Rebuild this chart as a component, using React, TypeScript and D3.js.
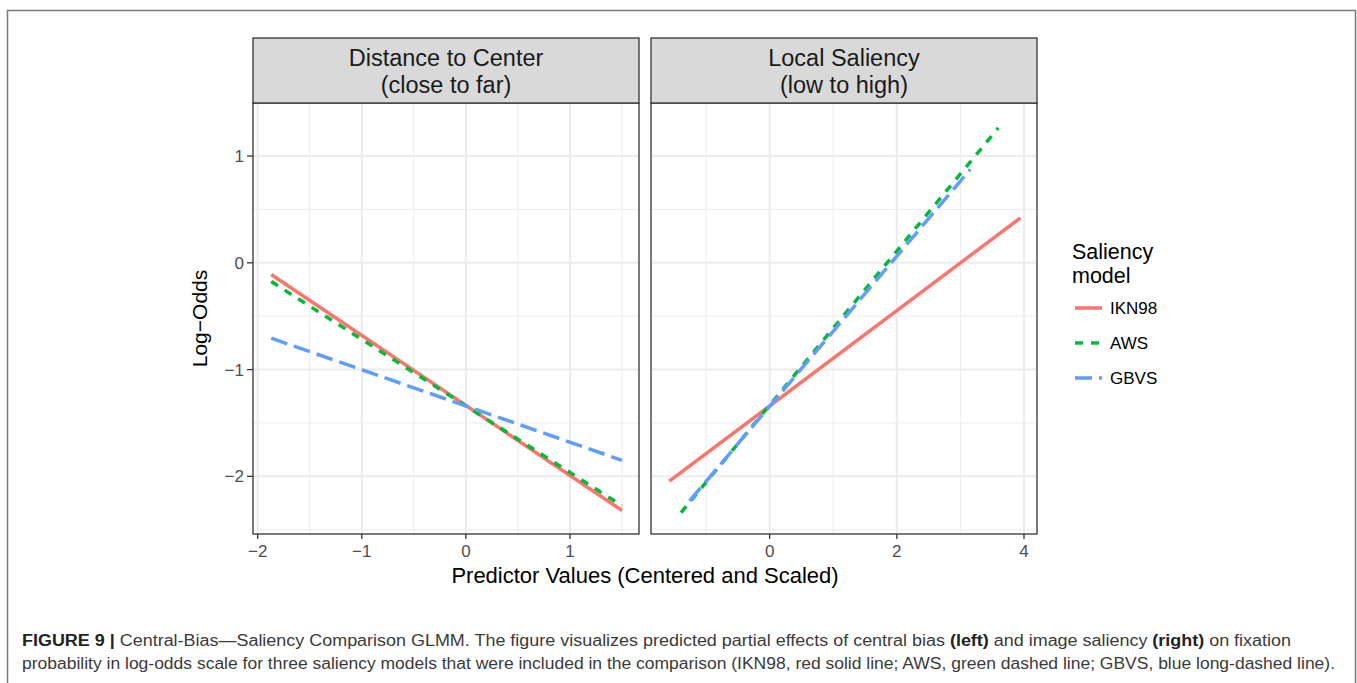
import React from "react";
import * as d3 from "d3";

// ---- data ----
const panelTitles = [["Distance to Center", "(close to far)"], ["Local Saliency", "(low to high)"]];
const models = ["IKN98", "AWS", "GBVS"];
const modelColors = ["#F8766D", "#00BA38", "#619CFF"];
const modelDash = ["none", "8 8", "17 7"];

// Distance to Center: x endpoints and predicted log-odds
const distX = [-1.87, 1.5];
const distIKN98 = [-0.11, -2.32];
const distAWS = [-0.175, -2.275];
const distGBVS = [-0.706, -1.85];

// Local Saliency: x endpoints per model and predicted log-odds
const salXIKN98 = [-1.577, 3.943];
const salXAWS = [-1.393, 3.596];
const salXGBVS = [-1.26, 3.155];
const salIKN98 = [-2.045, 0.42];
const salAWS = [-2.34, 1.263];
const salGBVS = [-2.23, 0.875];

const yTicks = [-2, -1, 0, 1];
const yMinor = [-2.5, -1.5, -0.5, 0.5];
const distTicks = [-2, -1, 0, 1];
const distMinor = [-1.5, -0.5, 0.5, 1.5];
const salTicks = [0, 2, 4];
const salMinor = [-1, 1, 3];

const fmt = (v: number) => (v < 0 ? "\u2212" + Math.abs(v) : String(v));

export default function App() {
  const top = 103, bottom = 534, stripTop = 38;
  const y = d3.scaleLinear().domain([-2.54, 1.497]).range([bottom, top]);
  const xDist = d3.scaleLinear().domain([-2.045, 1.663]).range([253, 639]);
  const xSal = d3.scaleLinear().domain([-1.866, 4.205]).range([651, 1037]);

  const line = d3.line<[number, number]>();

  const panels = [
    {
      x: xDist,
      ticks: distTicks,
      minor: distMinor,
      series: [
        { xs: distX, ys: distIKN98 },
        { xs: distX, ys: distAWS },
        { xs: distX, ys: distGBVS },
      ],
    },
    {
      x: xSal,
      ticks: salTicks,
      minor: salMinor,
      series: [
        { xs: salXIKN98, ys: salIKN98 },
        { xs: salXAWS, ys: salAWS },
        { xs: salXGBVS, ys: salGBVS },
      ],
    },
  ];

  const font = "'Liberation Sans', Arial, Helvetica, sans-serif";
  const capFont = "'Liberation Sans Narrow', 'Liberation Sans', Arial, sans-serif";

  return (
    <svg
      width={1357}
      height={683}
      style={{ position: "absolute", left: 0, top: 0, background: "#fff" }}
      fontFamily={font}
    >
      <rect x={0} y={0} width={1357} height={683} fill="#fff" />
      {/* frame */}
      <path d="M7.5,700 V10.5 H1355.5 V700" fill="none" stroke="#7a7a7a" strokeWidth={1.5} />

      {panels.map((p, i) => {
        const [x0, x1] = p.x.range();
        return (
          <g key={i}>
            <rect x={x0} y={top} width={x1 - x0} height={bottom - top} fill="#fff" />
            {yMinor.map((v) => (
              <line key={"ym" + v} x1={x0} x2={x1} y1={y(v)} y2={y(v)} stroke="#EBEBEB" strokeWidth={1} />
            ))}
            {p.minor.map((v) => (
              <line key={"xm" + v} x1={p.x(v)} x2={p.x(v)} y1={top} y2={bottom} stroke="#EBEBEB" strokeWidth={1} />
            ))}
            {yTicks.map((v) => (
              <line key={"yM" + v} x1={x0} x2={x1} y1={y(v)} y2={y(v)} stroke="#EBEBEB" strokeWidth={2} />
            ))}
            {p.ticks.map((v) => (
              <line key={"xM" + v} x1={p.x(v)} x2={p.x(v)} y1={top} y2={bottom} stroke="#EBEBEB" strokeWidth={2} />
            ))}
            {p.series.map((s, k) => (
              <path
                key={k}
                d={line(s.xs.map((xv, j) => [p.x(xv), y(s.ys[j])]))!}
                fill="none"
                stroke={modelColors[k]}
                strokeWidth={3.5}
                strokeDasharray={modelDash[k]}
              />
            ))}
            <rect x={x0} y={top} width={x1 - x0} height={bottom - top} fill="none" stroke="#333" strokeWidth={1.3} />
            {/* strip */}
            <rect x={x0} y={stripTop} width={x1 - x0} height={top - stripTop} fill="#D9D9D9" stroke="#333" strokeWidth={1.3} />
            <text x={(x0 + x1) / 2} y={66} textAnchor="middle" fontSize={23.5} fill="#1A1A1A">
              {panelTitles[i][0]}
            </text>
            <text x={(x0 + x1) / 2} y={92.5} textAnchor="middle" fontSize={23.5} fill="#1A1A1A">
              {panelTitles[i][1]}
            </text>
            {/* x axis */}
            {p.ticks.map((v) => (
              <g key={"xt" + v}>
                <line x1={p.x(v)} x2={p.x(v)} y1={bottom} y2={bottom + 5} stroke="#333" strokeWidth={1.3} />
                <text x={p.x(v)} y={557} textAnchor="middle" fontSize={17} fill="#4D4D4D">
                  {fmt(v)}
                </text>
              </g>
            ))}
          </g>
        );
      })}

      {/* y axis */}
      {yTicks.map((v) => (
        <g key={"yt" + v}>
          <line x1={247} x2={253} y1={y(v)} y2={y(v)} stroke="#333" strokeWidth={1.3} />
          <text x={244} y={y(v) + 6} textAnchor="end" fontSize={17} fill="#4D4D4D">
            {fmt(v)}
          </text>
        </g>
      ))}

      <text
        transform={`translate(207,${(top + bottom) / 2}) rotate(-90)`}
        textAnchor="middle"
        fontSize={21}
        fill="#000"
      >
        Log{"\u2212"}Odds
      </text>
      <text x={645} y={583} textAnchor="middle" fontSize={22} fill="#000">
        Predictor Values (Centered and Scaled)
      </text>

      {/* legend */}
      <text x={1072} y={259} fontSize={21.5} fill="#000">Saliency</text>
      <text x={1072} y={283} fontSize={21.5} fill="#000">model</text>
      {models.map((m, k) => (
        <g key={m}>
          <line
            x1={1075}
            x2={1102}
            y1={308 + k * 35}
            y2={308 + k * 35}
            stroke={modelColors[k]}
            strokeWidth={3.5}
            strokeDasharray={modelDash[k]}
          />
          <text x={1110} y={314 + k * 35} fontSize={17} fill="#000">
            {m}
          </text>
        </g>
      ))}

      {/* caption */}
      <text x={22} y={646} fontSize={16} fill="#3a3a3a" fontFamily={capFont} textLength={1269} lengthAdjust="spacingAndGlyphs">
        <tspan fontWeight="bold" fill="#222">FIGURE 9 |</tspan>
        <tspan> Central-Bias{"\u2014"}Saliency Comparison GLMM. The figure visualizes predicted partial effects of central bias </tspan>
        <tspan fontWeight="bold" fill="#222">(left)</tspan>
        <tspan> and image saliency </tspan>
        <tspan fontWeight="bold" fill="#222">(right)</tspan>
        <tspan> on fixation</tspan>
      </text>
      <text x={22} y={669} fontSize={16} fill="#3a3a3a" fontFamily={capFont} textLength={1313} lengthAdjust="spacingAndGlyphs">
        probability in log-odds scale for three saliency models that were included in the comparison (IKN98, red solid line; AWS, green dashed line; GBVS, blue long-dashed line).
      </text>
    </svg>
  );
}
